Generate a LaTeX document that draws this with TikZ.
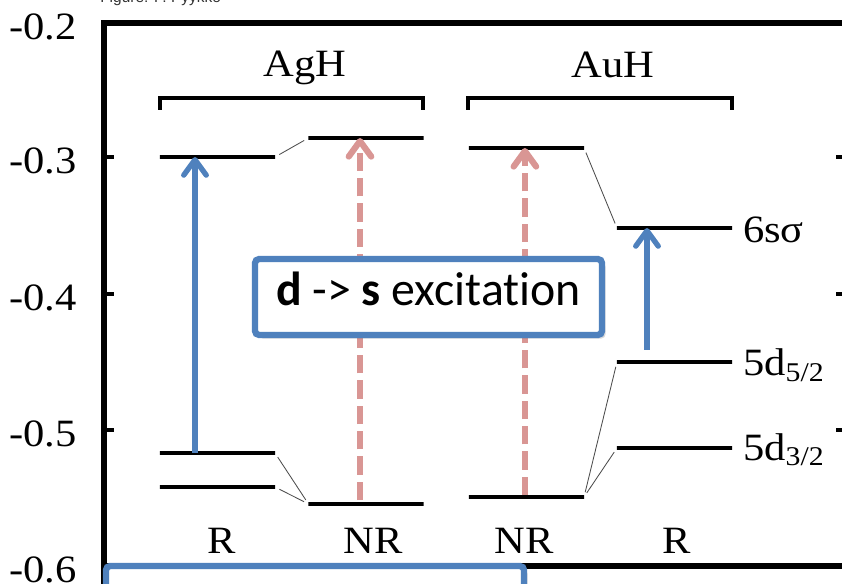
\documentclass[tikz,border=0pt]{standalone}
\usepackage{fontspec}
\setmainfont[FakeStretch=1.1]{Liberation Serif}
\newfontfamily\boxfont[Ligatures=NoCommon]{Carlito}
\newfontfamily\capfont{Liberation Sans}
\usetikzlibrary{arrows.meta,positioning,shadows}
\definecolor{officeblue}{RGB}{79,129,189}
\definecolor{rosepink}{RGB}{217,150,148}
\tikzset{
  orbital/.style={draw,line width=2.2pt,minimum width=2.875cm,minimum height=0pt,inner sep=0pt,outer sep=0pt},
  corr/.style={draw=black!70,line width=0.6pt,shorten <=3.5pt,shorten >=3.5pt},
  rel/.style={officeblue,line width=3.8pt,-{Straight Barb[length=11pt,width=16pt,round]}},
  nonrel/.style={rosepink,line width=4.4pt,dash pattern=on 13pt off 5pt,-{Straight Barb[length=11pt,width=16pt,round]}},
  lbl/.style={font=\fontsize{27.5}{31}\selectfont,inner sep=0pt},
  axisline/.style={line width=4.2pt},
  bracketline/.style={line width=2.2pt},
  callout/.style={draw=officeblue,fill=white,line width=4.5pt,rounded corners=3pt,
    drop shadow={opacity=0.3,shadow xshift=2.5pt,shadow yshift=-2.5pt}}
}

\begin{document}
\begin{tikzpicture}[x=0.025cm,y=-0.025cm]
  \useasboundingbox (0,0) rectangle (842,584);

  \node[anchor=base west,inner sep=0pt,text=black!80,font=\capfont\fontsize{11}{13}\selectfont] (cap) at (100,3) {Figure: P. Pyykkö};

  \draw[axisline] (860,23) -- (104,23) -- (104,600);
  \draw[axisline] (104,566) -- (860,566);
  \foreach \y in {157,294,430} {
    \draw[line width=3pt] (104,\y) -- (114,\y);
    \draw[line width=3pt] (836,\y) -- (860,\y);
  }
  \foreach \y/\v [count=\i] in {23/-0.2,157/-0.3,294/-0.4,430/-0.5,566/-0.6}
    \node[lbl,anchor=east] (tk\i) at (77,\y+4) {\v};

  \node[lbl,anchor=base] (agh) at (305,77) {AgH};
  \node[lbl,anchor=base] (auh) at (613,78) {AuH};
  \draw[bracketline] (160,110) -- (160,98) -- (423,98) -- (423,110);
  \draw[bracketline] (468,110) -- (468,98) -- (732,98) -- (732,110);

  \node[orbital] (agR1) at (217.5,157) {};
  \node[orbital] (agR2) at (217.5,453) {};
  \node[orbital] (agR3) at (217.5,487) {};
  \node[orbital] (agNR1) at (366,138) {};
  \node[orbital] (agNR2) at (366,504) {};
  \node[orbital] (auNR1) at (526.5,148) {};
  \node[orbital] (auNR2) at (526.5,497) {};
  \node[orbital] (auR1) at (674.5,228) {};
  \node[orbital] (auR2) at (674.5,362) {};
  \node[orbital] (auR3) at (674.5,448) {};

  \node[lbl,right=0.27cm of auR1,anchor=base west,yshift=-0.35cm] (s6) {6sσ};
  \node[lbl,right=0.27cm of auR2,anchor=base west,yshift=-0.33cm] (d52) {5d\textsubscript{5/2}};
  \node[lbl,right=0.27cm of auR3,anchor=base west,yshift=-0.3cm] (d32) {5d\textsubscript{3/2}};

  \node[lbl,anchor=base] (rag) at (222,553) {R};
  \node[lbl,anchor=base] (nrag) at (373,553) {NR};
  \node[lbl,anchor=base] (nrau) at (524,553) {NR};
  \node[lbl,anchor=base] (rau) at (677,553) {R};

  \path
  (agR1.east) edge[corr] (agNR1.west)
  (agR2.east) edge[corr] (agNR2.west)
  (agR3.east) edge[corr] (agNR2.west)
  (auNR1.east) edge[corr] (auR1.west)
  (auNR2.east) edge[corr] (auR2.west)
              edge[corr] (auR3.west);

  \draw[nonrel] ([xshift=-0.15cm,yshift=0.1cm]agNR2.center) -- ([xshift=-0.15cm]agNR1.center);
  \draw[nonrel] ([xshift=-0.04cm,yshift=0.05cm]auNR2.center) -- ([xshift=-0.04cm]auNR1.center);
  \draw[rel] ([xshift=-0.5625cm]agR2.center) -- ([xshift=-0.5625cm]agR1.center);
  \draw[rel] ([xshift=-0.6875cm,yshift=0.3cm]auR2.center) -- ([xshift=-0.6875cm]auR1.center);

  \node[callout,minimum width=8.675cm,minimum height=1.9cm,text depth=12pt,
    font=\boxfont\fontsize{34}{38}\selectfont] (exc) at (428.5,297) {\textbf{d} -> \textbf{s} excitation};
  \node[callout,minimum width=10.45cm,minimum height=2.5cm] (note) at (315,616) {};
\end{tikzpicture}
\end{document}
